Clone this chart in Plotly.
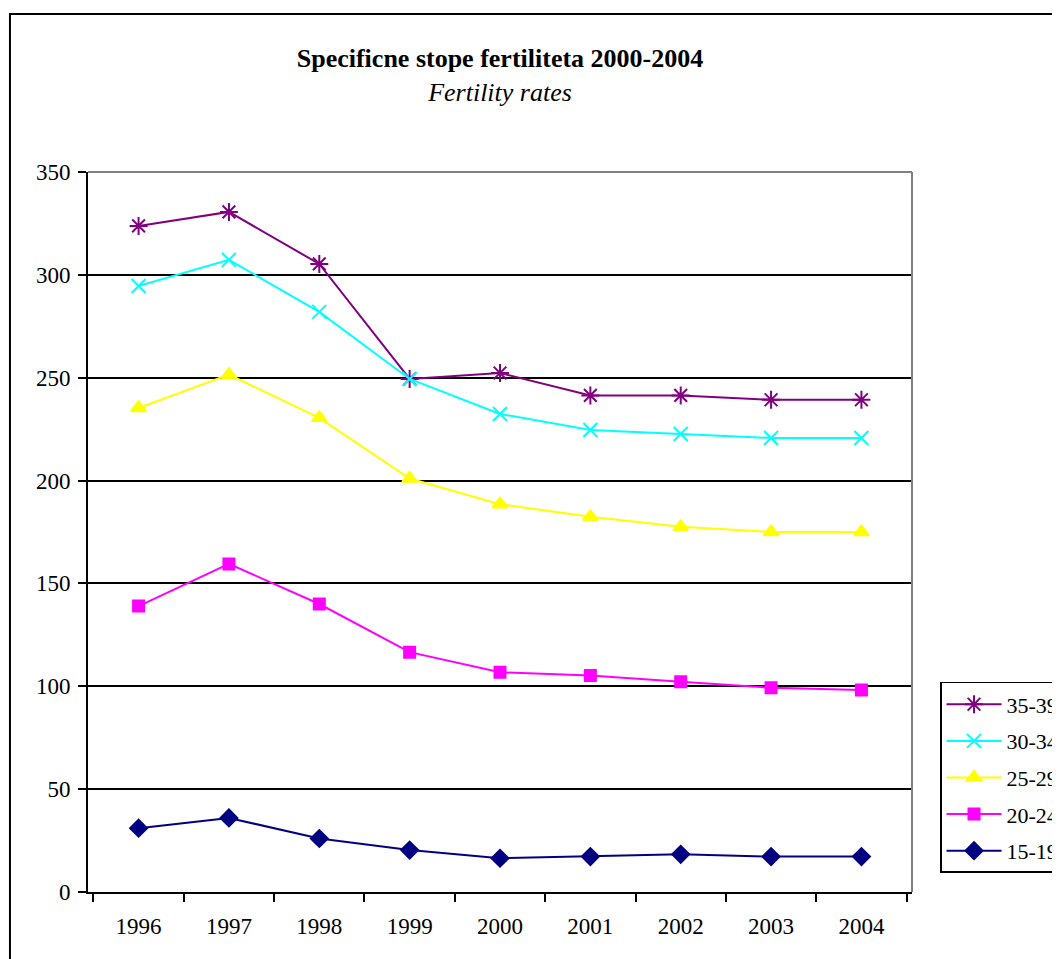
import plotly.graph_objects as go

# Fertility rates by age group, 1996-2004
years = ["1996", "1997", "1998", "1999", "2000", "2001", "2002", "2003", "2004"]
age_15_19 = [31, 36, 26, 20.4, 16.4, 17.2, 18.3, 17.2, 17.2]
age_20_24 = [139, 159.5, 140, 116.6, 106.8, 105.2, 102.2, 99.3, 98.2]
age_25_29 = [235.3, 251.5, 230.5, 201, 188.5, 182.4, 177.5, 175, 175]
age_30_34 = [294.6, 307.3, 282, 249.4, 232.4, 224.6, 222.6, 220.7, 220.7]
age_35_39 = [323.8, 330.6, 305.3, 249.4, 252.3, 241.4, 241.4, 239.3, 239.3]

# listed top-down as in the legend
series = [
    ("35-39", age_35_39, "#800080", "asterisk-open", 15),
    ("30-34", age_30_34, "#00FFFF", "x-thin-open", 14),
    ("25-29", age_25_29, "#FFFF00", "triangle-up", 13),
    ("20-24", age_20_24, "#FF00FF", "square", 11),
    ("15-19", age_15_19, "#000080", "diamond", 13),
]

FONT = "Liberation Serif, Times New Roman, serif"

fig = go.Figure()
for name, vals, color, symbol, size in series:
    fig.add_trace(go.Scatter(
        x=years, y=vals, mode="lines+markers", name=name, legendgroup=name,
        line=dict(color=color, width=2),
        marker=dict(symbol=symbol, size=size, color=color,
                    line=dict(color=color, width=2)),
    ))

# page has an 8px body margin, so the figure is a little smaller than the window
fig.update_layout(
    width=1052, height=951,
    margin=dict(l=80, r=148, t=164, b=67, autoexpand=False),
    paper_bgcolor="white", plot_bgcolor="white",
    font=dict(family=FONT, size=23, color="black"),
    title=dict(
        text="<b>Specificne stope fertiliteta 2000-2004</b><br><i>Fertility rates</i>",
        x=0.5, xref="paper", xanchor="center",
        y=0.938, yanchor="top",
        font=dict(family=FONT, size=26),
    ),
    showlegend=True,
    legend=dict(
        x=1.034, y=0.2917, xanchor="left", yanchor="top",
        traceorder="grouped", itemwidth=55,
        bordercolor="black", borderwidth=1.5, bgcolor="white",
        font=dict(family=FONT, size=22),
        tracegroupgap=5,
    ),
    xaxis=dict(
        type="category", tickson="boundaries",
        ticks="outside", ticklen=8, tickwidth=1.5, tickcolor="black",
        showline=True, linecolor="black", linewidth=2,
        showgrid=False, ticklabelstandoff=12,
    ),
    yaxis=dict(
        range=[0, 350], tickvals=[0, 50, 100, 150, 200, 250, 300, 350],
        ticks="outside", ticklen=8, tickwidth=1.5, tickcolor="black",
        showline=True, linecolor="black", linewidth=2,
        showgrid=True, gridcolor="black", gridwidth=1.5,
        zeroline=False, ticklabelstandoff=3,
    ),
    shapes=[
        # gray top and right plot-area border
        dict(type="line", xref="paper", yref="paper", x0=0, x1=1, y0=1, y1=1,
             line=dict(color="#808080", width=2), layer="above"),
        dict(type="line", xref="paper", yref="paper", x0=1, x1=1, y0=0, y1=1,
             line=dict(color="#808080", width=2), layer="above"),
        # outer chart border (cropped at right and bottom)
        dict(type="rect", xref="paper", yref="paper",
             x0=-0.0947, x1=1.2, y0=-0.12, y1=1.2194,
             line=dict(color="black", width=2), layer="below"),
    ],
)

fig.write_html("out.html")
